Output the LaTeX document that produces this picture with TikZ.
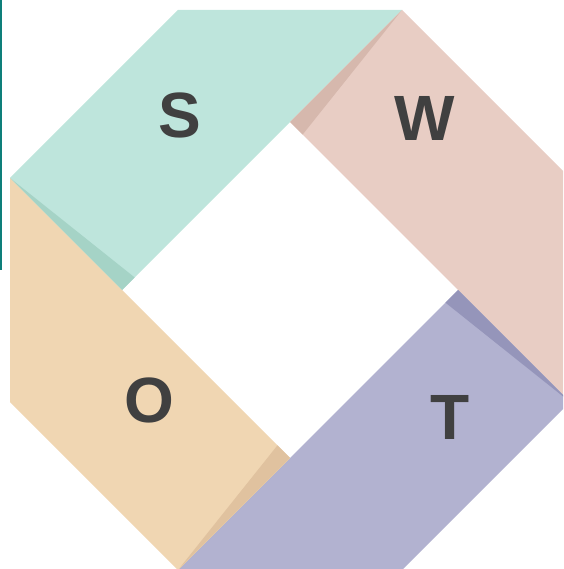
\documentclass[tikz,border=0pt]{standalone}
\usepackage{fontspec}
\newfontfamily\swotfont{Liberation Sans}
\usetikzlibrary{calc}

\definecolor{sfill}{HTML}{BEE5DC}
\definecolor{sshade}{HTML}{A5D3C6}
\definecolor{wfill}{HTML}{E8CDC4}
\definecolor{wshade}{HTML}{D6B8AD}
\definecolor{tfill}{HTML}{B2B2D0}
\definecolor{tshade}{HTML}{9595BA}
\definecolor{ofill}{HTML}{F0D6B2}
\definecolor{oshade}{HTML}{E0C29F}
\definecolor{swotgray}{HTML}{404040}
\definecolor{edgeteal}{HTML}{0E7F7A}

\begin{document}
\begin{tikzpicture}[
  x=1pt, y=-1pt,
  letter/.style={inner sep=0pt, font=\swotfont\bfseries\fontsize{64}{64}\selectfont, text=swotgray}
]
\useasboundingbox (0,0) rectangle (563,569);
\clip (0,0) rectangle (563,569);

% --- octagon (outer) and diamond (inner)
\coordinate (A1) at (178,10);
\coordinate (A2) at (402,10);
\coordinate (A3) at (570,178);
\coordinate (A4) at (570,402);
\coordinate (A5) at (402,570);
\coordinate (A6) at (178,570);
\coordinate (A7) at (10,402);
\coordinate (A8) at (10,178);
\coordinate (N) at (290,122);
\coordinate (E) at (458,290);
\coordinate (S) at (290,458);
\coordinate (W) at (122,290);

% --- thin rule on the left
\fill[edgeteal] (0,0) rectangle (2,270);

% --- the four bands
\fill[sfill] (A8) -- (A1) -- (A2) -- (N) -- (W) -- cycle;
\fill[wfill] (A2) -- (A3) -- (A4) -- (E) -- (N) -- cycle;
\fill[tfill] (A4) -- (A5) -- (A6) -- (S) -- (E) -- cycle;
\fill[ofill] (A6) -- (A7) -- (A8) -- (W) -- (S) -- cycle;

% --- folds
\fill[sshade] (A8) -- (W) -- ($(W)!0.075!(N)$) -- cycle;
\fill[wshade] (A2) -- (N) -- ($(N)!0.075!(E)$) -- cycle;
\fill[tshade] (A4) -- (E) -- ($(E)!0.075!(S)$) -- cycle;
\fill[oshade] (A6) -- (S) -- ($(S)!0.075!(W)$) -- cycle;

% --- letters
\node[letter] (lS) at (180,115) {S};
\node[letter] (lW) at (425,118) {W};
\node[letter] (lO) at (149,400) {O};
\node[letter] (lT) at (450,417) {T};

\end{tikzpicture}
\end{document}
